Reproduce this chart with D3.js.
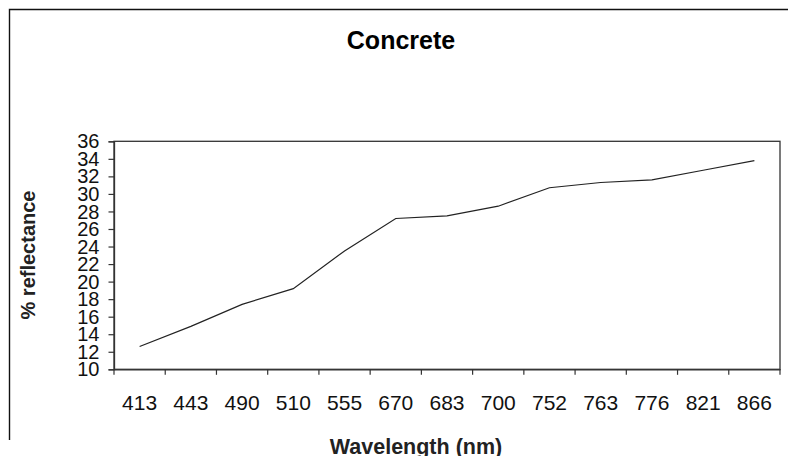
<!DOCTYPE html>
<html>
<head>
<meta charset="utf-8">
<script src="https://cdn.jsdelivr.net/npm/d3@7"></script>
<style>
  html, body { margin: 0; padding: 0; background: #fff; }
  svg { display: block; font-family: Arial, "Liberation Sans", sans-serif; }
</style>
</head>
<body>
<svg class="vis" width="788" height="456"></svg>
<script>
// wavelength categories (nm) and % reflectance
const wavelengths = ["413", "443", "490", "510", "555", "670", "683", "700", "752", "763", "776", "821", "866"];
const reflectance = [12.6, 14.9, 17.4, 19.2, 23.5, 27.2, 27.5, 28.6, 30.7, 31.3, 31.6, 32.7, 33.8];
const yTicks = [10, 12, 14, 16, 18, 20, 22, 24, 26, 28, 30, 32, 34, 36];

const chartTitle = "Concrete";
const xTitle = "Wavelength (nm)";
const yTitle = "% reflectance";

const plot = { left: 114, right: 780, top: 141.3, bottom: 369.3 };

const svg = d3.select("svg.vis");

// outer chart border (only top and left edges show in the frame)
svg.append("path")
    .attr("d", "M9.5,440 V9.5 H800")
    .attr("fill", "none")
    .attr("stroke", "#111")
    .attr("stroke-width", 1.4);

const x = d3.scaleBand()
    .domain(wavelengths)
    .range([plot.left, plot.right])
    .padding(0);

const y = d3.scaleLinear()
    .domain([10, 36])
    .range([plot.bottom, plot.top]);

// plot frame
svg.append("rect")
    .attr("x", plot.left)
    .attr("y", plot.top)
    .attr("width", plot.right - plot.left)
    .attr("height", plot.bottom - plot.top)
    .attr("fill", "none")
    .attr("stroke", "#333")
    .attr("stroke-width", 1.3);

// y axis
const yAxis = svg.append("g")
    .attr("transform", `translate(${plot.left},0)`)
    .call(d3.axisLeft(y).tickValues(yTicks).tickSize(5.5).tickPadding(9));

yAxis.select(".domain").attr("stroke", "#333").attr("stroke-width", 1.3);
yAxis.selectAll(".tick line").attr("stroke", "#333").attr("stroke-width", 1.2);
yAxis.selectAll(".tick text")
    .attr("fill", "#111")
    .style("font-size", "20px")
    .attr("dy", "0.33em");

// x axis: labels at band centres, ticks between categories
const xAxis = svg.append("g")
    .attr("transform", `translate(0,${plot.bottom})`)
    .call(d3.axisBottom(x).tickSize(0).tickPadding(26));

xAxis.select(".domain").attr("stroke", "#333").attr("stroke-width", 1.3);
xAxis.selectAll(".tick text")
    .attr("fill", "#111")
    .style("font-size", "21px");

const xTickPos = wavelengths.map(d => x(d)).concat([x.range()[1]]);
xAxis.selectAll("line.xtick")
    .data(xTickPos)
    .join("line")
    .attr("class", "xtick")
    .attr("x1", d => d)
    .attr("x2", d => d)
    .attr("y1", 0)
    .attr("y2", 5.5)
    .attr("stroke", "#333")
    .attr("stroke-width", 1.2);

// data line
const line = d3.line()
    .x((d, i) => x(wavelengths[i]) + x.bandwidth() / 2)
    .y(d => y(d));

svg.append("path")
    .datum(reflectance)
    .attr("d", line)
    .attr("fill", "none")
    .attr("stroke", "#222")
    .attr("stroke-width", 1.2);

// titles
svg.append("text")
    .attr("x", 401)
    .attr("y", 49)
    .attr("text-anchor", "middle")
    .style("font-size", "25px")
    .style("font-weight", "bold")
    .attr("fill", "#000")
    .text(chartTitle);

svg.append("text")
    .attr("x", 416)
    .attr("y", 454)
    .attr("text-anchor", "middle")
    .style("font-size", "21.5px")
    .style("font-weight", "bold")
    .attr("fill", "#222")
    .text(xTitle);

svg.append("text")
    .attr("transform", "translate(35,255) rotate(-90)")
    .attr("text-anchor", "middle")
    .style("font-size", "20px")
    .style("font-weight", "bold")
    .attr("fill", "#222")
    .text(yTitle);
</script>
</body>
</html>
